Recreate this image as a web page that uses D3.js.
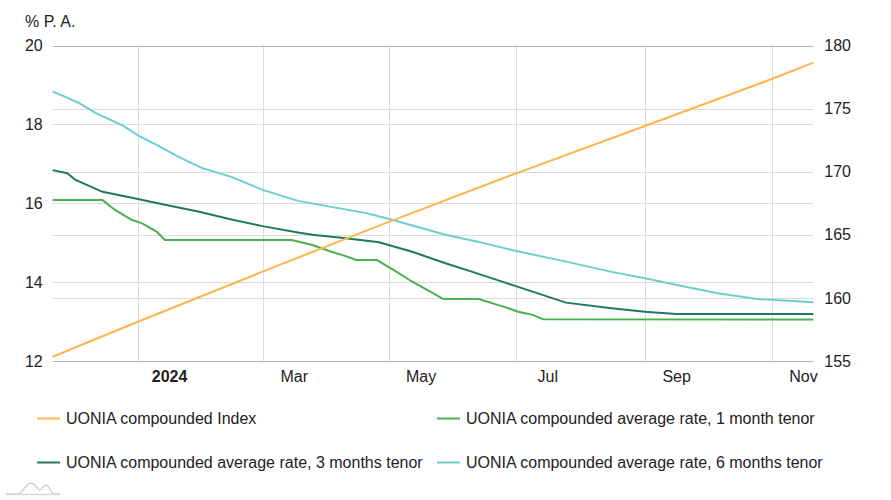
<!DOCTYPE html>
<html>
<head>
<meta charset="utf-8">
<script src="https://cdn.jsdelivr.net/npm/d3@7"></script>
<style>
  html, body { margin: 0; padding: 0; background: #fff; }
  svg { display: block; font-family: "Liberation Sans", Arial, sans-serif; }
</style>
</head>
<body>
<svg id="chart" width="891" height="500"></svg>
<script>
// ---------- DATA ----------
const indexDates  = ["2023-11-21","2024-01-01","2024-03-01","2024-05-01","2024-07-01","2024-09-01","2024-11-01","2024-11-21"];
const indexValues = [155.34, 158.11, 162.08, 166.04, 169.87, 173.62, 177.35, 178.64];

const m1Dates  = ["2023-11-21","2023-12-15","2023-12-21","2023-12-29","2024-01-03","2024-01-10","2024-01-14","2024-03-15","2024-03-25","2024-04-02","2024-04-10","2024-04-15","2024-04-25","2024-05-03","2024-05-12","2024-05-20","2024-05-27","2024-06-13","2024-06-26","2024-07-02","2024-07-09","2024-07-14","2024-11-21"];
const m1Values = [16.08, 16.08, 15.83, 15.58, 15.49, 15.28, 15.07, 15.07, 14.94, 14.79, 14.66, 14.56, 14.56, 14.31, 14.01, 13.78, 13.57, 13.57, 13.36, 13.25, 13.17, 13.06, 13.05];

const m3Dates  = ["2023-11-21","2023-11-28","2023-12-02","2023-12-15","2024-01-01","2024-01-14","2024-01-30","2024-02-15","2024-03-01","2024-03-18","2024-03-25","2024-04-10","2024-04-26","2024-05-12","2024-05-28","2024-06-10","2024-06-29","2024-07-25","2024-08-16","2024-09-01","2024-09-16","2024-11-21"];
const m3Values = [16.84, 16.76, 16.59, 16.29, 16.11, 15.96, 15.79, 15.59, 15.42, 15.26, 15.20, 15.11, 15.01, 14.77, 14.48, 14.26, 13.93, 13.48, 13.34, 13.25, 13.19, 13.19];

const m6Dates  = ["2023-11-21","2023-11-28","2023-12-04","2023-12-12","2023-12-25","2024-01-01","2024-01-10","2024-01-22","2024-02-01","2024-02-15","2024-03-01","2024-03-18","2024-04-07","2024-04-20","2024-05-01","2024-05-28","2024-06-13","2024-07-01","2024-07-25","2024-08-16","2024-09-01","2024-09-17","2024-10-06","2024-10-25","2024-11-21"];
const m6Values = [18.83, 18.68, 18.53, 18.28, 17.96, 17.72, 17.48, 17.14, 16.89, 16.67, 16.34, 16.06, 15.87, 15.75, 15.60, 15.20, 15.02, 14.79, 14.52, 14.26, 14.10, 13.92, 13.72, 13.57, 13.49];

const leftTicks  = [12, 14, 16, 18, 20];
const rightTicks = [155, 160, 165, 170, 175, 180];
const gridMonths = ["2024-01-01","2024-03-01","2024-05-01","2024-07-01","2024-09-01","2024-11-01"];
const xLabelDates = ["2024-01-16","2024-03-16","2024-05-16","2024-07-16","2024-09-16","2024-11-16"];
const xLabels = ["2024","Mar","May","Jul","Sep","Nov"];

const seriesNames  = ["UONIA compounded Index","UONIA compounded average rate, 1 month tenor","UONIA compounded average rate, 3 months tenor","UONIA compounded average rate, 6 months tenor"];
const seriesColors = ["#ffb54d","#4caf50","#1f7a5c","#6ccfcb"];

// ---------- CHART ----------
const parse = d3.utcParse("%Y-%m-%d");
const svg = d3.select("#chart");

const x = d3.scaleUtc().domain([parse("2023-11-21"), parse("2024-11-21")]).range([52.7, 813.3]);
const yL = d3.scaleLinear().domain([12, 20]).range([361, 45.5]);
const yR = d3.scaleLinear().domain([155, 180]).range([361, 45.5]);

const g = svg.append("g");

// vertical grid lines
g.selectAll("line.vgrid").data(gridMonths).join("line")
  .attr("x1", d => Math.round(x(parse(d))) + 0.5).attr("x2", d => Math.round(x(parse(d))) + 0.5)
  .attr("y1", yL(20)).attr("y2", yL(12))
  .attr("stroke", "#dcdcdc").attr("stroke-width", 1);

// horizontal grid (left)
g.selectAll("line.lgrid").data(leftTicks.filter(t => t !== 12 && t !== 20)).join("line")
  .attr("x1", x.range()[0]).attr("x2", x.range()[1])
  .attr("y1", d => Math.round(yL(d)) + 0.5).attr("y2", d => Math.round(yL(d)) + 0.5)
  .attr("stroke", "#dcdcdc").attr("stroke-width", 1);
// horizontal grid (right)
g.selectAll("line.rgrid").data(rightTicks.filter(t => t !== 155 && t !== 180)).join("line")
  .attr("x1", x.range()[0]).attr("x2", x.range()[1])
  .attr("y1", d => Math.round(yR(d)) + 0.5).attr("y2", d => Math.round(yR(d)) + 0.5)
  .attr("stroke", "#dcdcdc").attr("stroke-width", 1);

// top and bottom frame lines
[20, 12].forEach(v => {
  g.append("line")
    .attr("x1", x.range()[0]).attr("x2", x.range()[1])
    .attr("y1", Math.round(yL(v)) + 0.5).attr("y2", Math.round(yL(v)) + 0.5)
    .attr("stroke", "#b4b4b4").attr("stroke-width", 1);
});

// left axis
const leftAxis = d3.axisLeft(yL).tickValues(leftTicks).tickSize(0).tickPadding(10).tickFormat(d3.format("d"));
const la = svg.append("g").attr("transform", `translate(${x.range()[0]},0)`).call(leftAxis);
la.select(".domain").remove();
la.selectAll("text").attr("font-size", 16).attr("fill", "#222").attr("font-family", "Liberation Sans, Arial, sans-serif");

// right axis
const rightAxis = d3.axisRight(yR).tickValues(rightTicks).tickSize(0).tickPadding(11).tickFormat(d3.format("d"));
const ra = svg.append("g").attr("transform", `translate(${x.range()[1]},0)`).call(rightAxis);
ra.select(".domain").remove();
ra.selectAll("text").attr("font-size", 16).attr("fill", "#222").attr("font-family", "Liberation Sans, Arial, sans-serif");

// bottom axis
const bottomAxis = d3.axisBottom(x).tickValues(xLabelDates.map(parse)).tickSize(0).tickPadding(10)
  .tickFormat((d, i) => xLabels[i]);
const ba = svg.append("g").attr("transform", `translate(0,${yL(12)})`).call(bottomAxis);
ba.select(".domain").remove();
ba.selectAll("text").attr("font-size", 16).attr("fill", "#222").attr("font-family", "Liberation Sans, Arial, sans-serif")
  .attr("font-weight", (d, i) => i === 0 ? "bold" : "normal");

// unit label
svg.append("text").attr("x", 25).attr("y", 27).attr("font-size", 16).attr("fill", "#222").text("% P. A.");

// lines
const mk = (dates, vals) => dates.map((d, i) => ({ date: parse(d), value: vals[i] }));
const lineL = d3.line().x(d => x(d.date)).y(d => yL(d.value));
const lineR = d3.line().x(d => x(d.date)).y(d => yR(d.value));

const plotG = svg.append("g");
plotG.append("path").datum(mk(m6Dates, m6Values)).attr("d", lineL)
  .attr("fill", "none").attr("stroke", seriesColors[3]).attr("stroke-width", 2);
plotG.append("path").datum(mk(m3Dates, m3Values)).attr("d", lineL)
  .attr("fill", "none").attr("stroke", seriesColors[2]).attr("stroke-width", 2);
plotG.append("path").datum(mk(m1Dates, m1Values)).attr("d", lineL)
  .attr("fill", "none").attr("stroke", seriesColors[1]).attr("stroke-width", 2);
plotG.append("path").datum(mk(indexDates, indexValues)).attr("d", lineR)
  .attr("fill", "none").attr("stroke", seriesColors[0]).attr("stroke-width", 2);

// legend
const legendPos = [[37, 418], [437, 418], [37, 462], [437, 462]];
const lg = svg.append("g");
seriesNames.forEach((name, i) => {
  const [lx, ly] = legendPos[i];
  lg.append("line").attr("x1", lx).attr("x2", lx + 23).attr("y1", ly + 0.5).attr("y2", ly + 0.5)
    .attr("stroke", seriesColors[i]).attr("stroke-width", 2);
  lg.append("text").attr("x", lx + 29).attr("y", ly + 6).attr("font-size", 16).attr("fill", "#222").text(name);
});

// small logo mark bottom-left
svg.append("path")
  .attr("d", "M6,494 L18,494 C22,494 26,483 31,483 C35,483 37,490 40,490 C42,490 43,485 46,485 C49,485 51,494 54,494 L60,494")
  .attr("fill", "none").attr("stroke", "#cfcfcf").attr("stroke-width", 1.5);
svg.append("line").attr("x1", 6).attr("x2", 60).attr("y1", 494.5).attr("y2", 494.5).attr("stroke", "#d6d6d6").attr("stroke-width", 1.5);
</script>
</body>
</html>
